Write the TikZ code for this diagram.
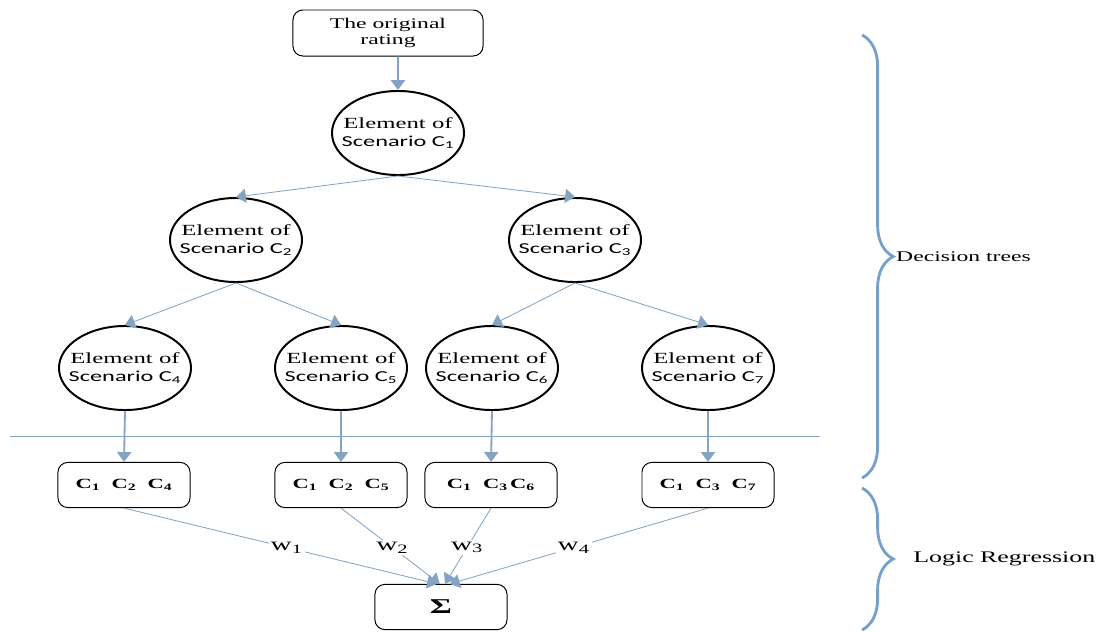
\documentclass[tikz,border=0pt]{standalone}
\usepackage{fontspec}
\setmainfont{Liberation Serif}[FakeStretch=1.6]
\newfontfamily\scenfont{Carlito}[FakeStretch=1.6]
\usetikzlibrary{shapes.geometric,arrows.meta,decorations.pathreplacing}

\definecolor{linkblue}{RGB}{133,163,195}
\definecolor{bracecol}{RGB}{117,160,204}

\tikzstyle{element}=[shape=ellipse,draw=black,line width=1.4pt,minimum width=3.3cm,minimum height=2.1cm,inner xsep=-0.4cm,inner ysep=0pt,align=center,font=\fontsize{11}{12.5}\selectfont]
\tikzstyle{box}=[shape=rectangle,rounded corners=7pt,draw=black,line width=0.7pt,minimum width=3.3cm,minimum height=1.13cm,align=center]
\tikzstyle{link}=[draw=linkblue,-{Triangle[width=10pt,length=7pt,fill=linkblue]},line width=0.6pt]
\tikzstyle{drop}=[link,line width=1.3pt]
\tikzstyle{wlabel}=[fill=white,inner sep=1.5pt,font=\fontsize{13}{15}\selectfont]
\tikzstyle{groupbrace}=[draw=bracecol,line width=2pt,decorate,decoration={brace,amplitude=0.78cm}]

\newcommand{\elem}[1]{Element of\\{\scenfont\fontsize{10.8}{12.5}\selectfont Scenario C\textsubscript{#1}}}

\begin{document}
\begin{tikzpicture}[x=0.025cm,y=-0.025cm]
        \useasboundingbox (0,0) rectangle (1097,632);
        % rating and tree
        \node[box,minimum width=4.75cm,minimum height=1.15cm,font=\fontsize{10.5}{11.5}\selectfont] (rating) at (388,33) {The original\\rating};
        \node[element] (c1) at (398,133) {\elem{1}};
        \node[element] (c2) at (236,240) {\elem{2}};
        \node[element] (c3) at (575,240) {\elem{3}};
        \node[element] (c4) at (125,368) {\elem{4}};
        \node[element] (c5) at (341,368) {\elem{5}};
        \node[element] (c6) at (492,368) {\elem{6}};
        \node[element] (c7) at (708,368) {\elem{7}};
        \draw[drop] ([xshift=0.25cm]rating.south) -- (c1.north);
        \draw[link] (c1.south) -- (c2.north);
        \draw[link] (c1.south) -- (c3.north);
        \draw[link] (c2.south) -- (c4.north);
        \draw[link] (c2.south) -- (c5.north);
        \draw[link] (c3.south) -- (c6.north);
        \draw[link] (c3.south) -- (c7.north);
        % separator
        \draw[linkblue,line width=0.6pt] (10,436) -- (820,436);
        % rule boxes
        \node[box] (r4) at (124,485) {\textbf{C\textsubscript{1}\ \ C\textsubscript{2}\ \ C\textsubscript{4}}};
        \node[box] (r5) at (341,485) {\textbf{C\textsubscript{1}\ \ C\textsubscript{2}\ \ C\textsubscript{5}}};
        \node[box] (r6) at (491,485) {\textbf{C\textsubscript{1}\ \ C\textsubscript{3}\,C\textsubscript{6}}};
        \node[box] (r7) at (708,485) {\textbf{C\textsubscript{1}\ \ C\textsubscript{3}\ \ C\textsubscript{7}}};
        \draw[drop] (c4.south) -- (r4.north);
        \draw[drop] (c5.south) -- (r5.north);
        \draw[drop] (c6.south) -- (r6.north);
        \draw[drop] (c7.south) -- (r7.north);
        % regression
        \node[box,font=\fontsize{15}{17}\selectfont] (sum) at (441,607) {\textbf{Σ}};
        \draw[link] (r4.south) -- node[wlabel,pos=0.52] {w\textsubscript{1}} ([xshift=-0.1cm]sum.north);
        \draw[link] (r5.south) -- node[wlabel,pos=0.52] {w\textsubscript{2}} ([xshift=-0.03cm]sum.north);
        \draw[link] (r6.south) -- node[wlabel,pos=0.52] {w\textsubscript{3}} ([xshift=0.1cm]sum.north);
        \draw[link] (r7.south) -- node[wlabel,pos=0.52] {w\textsubscript{4}} ([xshift=0.22cm]sum.north);
        % braces
        \draw[groupbrace] (862,35) -- (862,478) node[midway,right=0.82cm,font=\fontsize{10.5}{12}\selectfont,inner sep=0pt] (dtlabel) {Decision trees};
        \draw[groupbrace] (862,488) -- (862,630) node[midway,right=1.25cm,font=\fontsize{11.5}{13}\selectfont,inner sep=0pt] (lrlabel) {Logic Regression};
    \end{tikzpicture}
\end{document}
